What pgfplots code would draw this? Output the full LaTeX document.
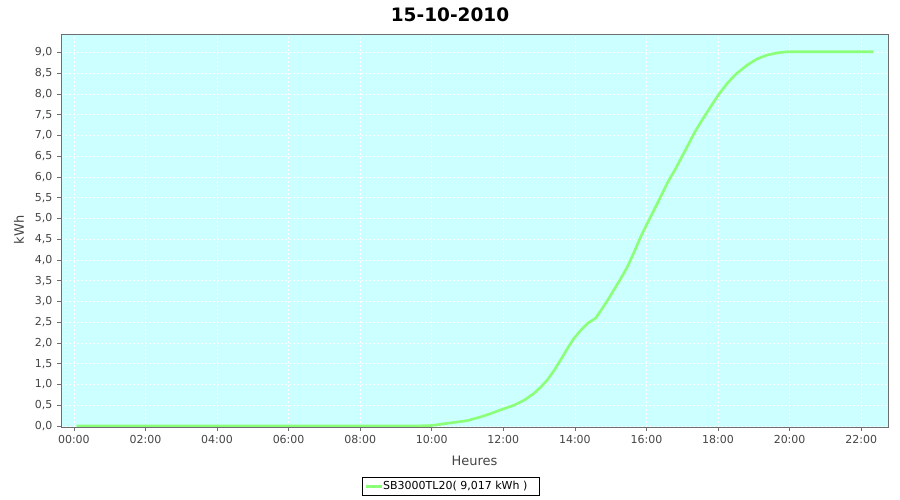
\documentclass[border=0pt]{standalone}
\usepackage{pgfplots}
\pgfplotsset{compat=1.18}
\usepackage{fontspec}
\setmainfont{DejaVu Sans}
\definecolor{plotbg}{RGB}{204,255,255}
\definecolor{linegreen}{RGB}{140,255,120}
\definecolor{axgray}{RGB}{110,110,110}
\definecolor{txtgray}{RGB}{68,68,68}
\begin{document}
\begin{tikzpicture}[x=1bp,y=1bp]
\path[use as bounding box] (0,0) rectangle (900,500);
\begin{axis}[
  at={(61bp,73bp)}, anchor=south west,
  scale only axis, width=827bp, height=393bp,
  xmin=-0.36, xmax=22.75, ymin=-0.024, ymax=9.446,
  axis background/.style={fill=plotbg},
  axis line style={axgray, line width=0.8bp},
  xtick={0,2,...,22},
  xticklabels={00:00,02:00,04:00,06:00,08:00,10:00,12:00,14:00,16:00,18:00,20:00,22:00},
  ytick={0,0.5,...,9},
  yticklabels={{0,0},{0,5},{1,0},{1,5},{2,0},{2,5},{3,0},{3,5},{4,0},{4,5},{5,0},{5,5},{6,0},{6,5},{7,0},{7,5},{8,0},{8,5},{9,0}},
  tick align=outside, tick pos=left,
  major tick length=4bp,
  tick style={axgray, line width=0.6bp},
  /pgf/number format/assume math mode=true,
  ticklabel style={font=\fontsize{11bp}{13bp}\selectfont, text=txtgray},
  xticklabel style={yshift=-1bp},
  yticklabel style={xshift=-1bp},
  grid=major,
  major grid style={white, line width=0.5bp, dash pattern=on 2bp off 2bp},
  clip=true,
]
\addplot[linegreen, line width=2.6bp, line join=round] coordinates {
(0.08,0) (9.5,0) (10.0,0.012) (10.44,0.065) (11.0,0.13) (11.37,0.22)
(11.65,0.3) (11.93,0.39) (12.3,0.5) (12.6,0.63) (12.86,0.79) (13.05,0.94)
(13.23,1.11) (13.42,1.34) (13.6,1.59) (13.78,1.85) (13.97,2.11) (14.17,2.31)
(14.35,2.47) (14.58,2.6) (14.77,2.84) (14.93,3.05) (15.09,3.28) (15.28,3.55)
(15.47,3.84) (15.66,4.2) (15.84,4.56) (16.02,4.88) (16.21,5.2) (16.4,5.53)
(16.58,5.85) (16.82,6.21) (17.09,6.65) (17.33,7.05) (17.56,7.38) (17.79,7.69)
(18.02,7.99) (18.26,8.26) (18.5,8.48) (18.82,8.7) (19.1,8.85) (19.38,8.94)
(19.65,8.99) (19.94,9.017) (22.35,9.017)
};
\end{axis}
\node[font=\bfseries\fontsize{18.5bp}{22bp}\selectfont] at (450,485.5) {15-10-2010};
\node[font=\fontsize{13bp}{15bp}\selectfont, text=txtgray] at (474.5,39) {Heures};
\node[font=\fontsize{13bp}{15bp}\selectfont, text=txtgray, rotate=90] at (19,270) {kWh};
\draw[black, line width=0.8bp, fill=white] (362.7,4.3) rectangle (539,23);
\draw[linegreen, line width=2.6bp] (365.5,13.6) -- (382,13.6);
\node[font=\fontsize{11bp}{13bp}\selectfont, anchor=west, inner sep=0] at (383,13.6) {SB3000TL20( 9,017 kWh )};
\end{tikzpicture}
\end{document}
